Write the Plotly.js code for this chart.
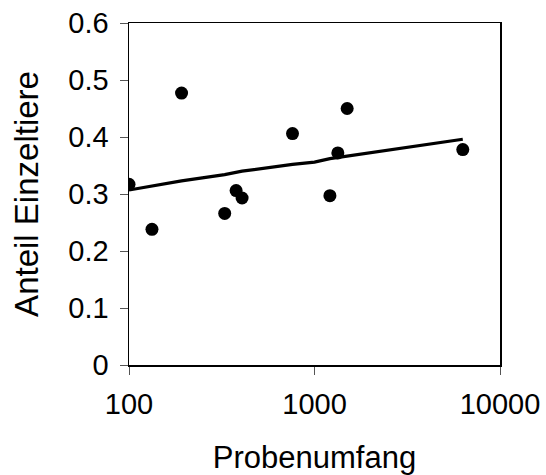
<!DOCTYPE html>
<html>
<head>
<meta charset="utf-8">
<script src="https://cdn.plot.ly/plotly-3.0.1.min.js"></script>
<style>
  html, body { margin: 0; padding: 0; background: #fff; }
  #chart { width: 546px; height: 475px; }
</style>
</head>
<body>
<div id="chart"></div>
<script>
// Observed samples: sample size (Probenumfang) and share of single animals (Anteil Einzeltiere)
const sampleSize = [100, 133, 192, 328, 378, 407, 761, 1211, 1336, 1500, 6300];
const shareSingle = [0.317, 0.238, 0.477, 0.266, 0.306, 0.293, 0.406, 0.297, 0.372, 0.450, 0.378];

// Fitted / model curve
const fitSize = [100, 133, 192, 328, 378, 407, 761, 1000, 1211, 1336, 1500, 2000, 3000, 4000, 5000, 6300];
const fitShare = [0.307, 0.314, 0.323, 0.334, 0.338, 0.340, 0.352, 0.356, 0.362, 0.364, 0.367, 0.372, 0.380, 0.386, 0.391, 0.396];

// Axis ticks
const xTickVals = [100, 1000, 10000];
const xTickText = ["100", "1000", "10000"];
const yTickVals = [0, 0.1, 0.2, 0.3, 0.4, 0.5, 0.6];
const yTickText = ["0", "0.1", "0.2", "0.3", "0.4", "0.5", "0.6"];

const font = "Liberation Sans, Arial, sans-serif";

const traces = [
  {
    x: fitSize, y: fitShare, type: "scatter", mode: "lines",
    line: { color: "#000", width: 3.2 }, hoverinfo: "skip", showlegend: false
  },
  {
    x: sampleSize, y: shareSingle, type: "scatter", mode: "markers",
    marker: { color: "#000", size: 13 }, showlegend: false
  }
];

const layout = {
  width: 546, height: 475,
  margin: { l: 129, r: 46, t: 23, b: 110, pad: 0 },
  paper_bgcolor: "#fff", plot_bgcolor: "#fff",
  font: { family: font, color: "#000", size: 29 },
  showlegend: false,
  xaxis: {
    type: "log", range: [2, 4],
    tickmode: "array", tickvals: xTickVals, ticktext: xTickText,
    ticks: "outside", ticklen: 8, tickwidth: 1, tickcolor: "#555",
    showline: true, linecolor: "#000", linewidth: 1.5, mirror: true,
    showgrid: false, zeroline: false,
    tickfont: { family: font, size: 29, color: "#000" },
    ticklabelstandoff: 5,
    title: { text: "Probenumfang", font: { family: font, size: 31, color: "#000" }, standoff: 27 }
  },
  yaxis: {
    range: [0, 0.6],
    tickmode: "array", tickvals: yTickVals, ticktext: yTickText,
    ticks: "outside", ticklen: 8, tickwidth: 1, tickcolor: "#555",
    showline: true, linecolor: "#000", linewidth: 1.5, mirror: true,
    showgrid: false, zeroline: false,
    tickfont: { family: font, size: 29, color: "#000" },
    ticklabelstandoff: 5,
    title: { text: "Anteil Einzeltiere", font: { family: font, size: 33, color: "#000" }, standoff: 20 }
  }
};

Plotly.newPlot("chart", traces, layout, { staticPlot: true, displayModeBar: false });
</script>
</body>
</html>
